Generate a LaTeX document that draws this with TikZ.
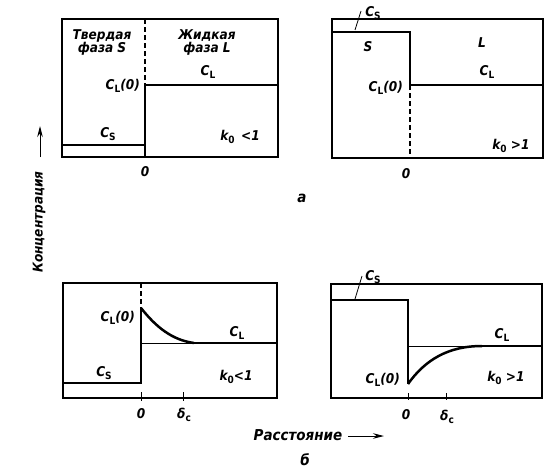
\documentclass[tikz,border=0pt]{standalone}
\usepackage{fontspec}
\setmainfont{DejaVu Sans Condensed}
\usetikzlibrary{arrows.meta}
\newcommand{\mysub}[1]{\raisebox{-0.35ex}{\fontsize{10}{10}\selectfont\upshape #1}}
\tikzset{
  frame/.style={line width=1.5pt},
  thickline/.style={line width=2.5pt},
  thinline/.style={line width=0.9pt},
  medline/.style={line width=1.5pt},
  dashline/.style={line width=1.4pt, dash pattern=on 5pt off 3pt},
  lbl/.style={font=\fontsize{13.5}{14}\selectfont\bfseries\itshape, inner sep=0pt},
  biglbl/.style={font=\fontsize{15}{16}\selectfont\bfseries\itshape, inner sep=0pt},
  lead/.style={line width=0.8pt},
  axarrow/.style={line width=1pt, -{Stealth[length=11pt,width=5.5pt]}}
}
\begin{document}
\begin{tikzpicture}[x=1pt,y=-1pt]
\useasboundingbox (0,0) rectangle (559,471);
% ---------- Panel 1 ----------
\draw[frame] (62,19) rectangle (278,157);
\draw[dashline] (145,19) -- (145,85);
\draw[thickline] (145,85) -- (145,157);
\draw[medline] (145,85) -- (278,85);
\draw[medline] (62,145) -- (145,145);
\node[lbl, align=center] (t1) at (102,42) {Твердая\\[-1pt]фаза S};
\node[lbl, align=center] (t2) at (207,42) {Жидкая\\[-1pt]фаза L};
\node[lbl] (p1cl) at (208,72) {C\mysub{L}};
\node[lbl, anchor=east] (p1cl0) at (140,86) {C\mysub{L}(0)};
\node[lbl] (p1cs) at (108,134) {C\mysub{S}};
\node[lbl] (p1k) at (240,137) {k\mysub{0} \,<1};
\node[lbl] (p1o) at (145,172) {0};
% ---------- Panel 2 ----------
\draw[frame] (332,19) rectangle (543,158);
\draw[thickline] (332,32) -- (410,32) -- (410,85) -- (543,85);
\draw[dashline] (410,85) -- (410,158);
\node[lbl] (p2cs) at (373,13) {C\mysub{S}};
\coordinate (p2a) at (355,30);
\coordinate (p2b) at (361,11);
\draw[lead] (p2a) -- (p2b);
\node[lbl] (p2s) at (368,47) {S};
\node[lbl] (p2l) at (482,43) {L};
\node[lbl] (p2cl) at (487,72) {C\mysub{L}};
\node[lbl, anchor=east] (p2cl0) at (403,88) {C\mysub{L}(0)};
\node[lbl] (p2k) at (511,146) {k\mysub{0} >1};
\node[lbl] (p2o) at (406,174) {0};
% ---------- Label a ----------
\node[biglbl] (la) at (302,198) {а};
% ---------- Axis labels ----------
\node[lbl, rotate=90] (conc) at (39,222) {Концентрация};
\coordinate (ya) at (40,157);
\coordinate (yb) at (40,126);
\draw[axarrow] (ya) -- (yb);
\node[biglbl] (dist) at (298,435) {Расстояние};
\coordinate (xa) at (348,436);
\coordinate (xb) at (384,436);
\draw[axarrow] (xa) -- (xb);
\node[biglbl] (lb) at (305,460) {б};
% ---------- Panel 3 ----------
\draw[frame] (63,283) rectangle (277,398);
\draw[dashline] (141,283) -- (141,308);
\draw[thickline] (141,308) -- (141,383) -- (63,383);
\draw[thickline] (141,308) .. controls (156,327) and (172,340) .. (194,343);
\draw[thinline] (141,343) -- (194,343);
\draw[thickline] (194,343) -- (277,343);
\draw[thinline] (141,392) -- (141,401);
\draw[thinline] (183,392) -- (183,401);
\node[lbl, anchor=east] (p3cl0) at (135,318) {C\mysub{L}(0)};
\node[lbl] (p3cl) at (237,333) {C\mysub{L}};
\node[lbl] (p3cs) at (104,373) {C\mysub{S}};
\node[lbl] (p3k) at (236,377) {k\mysub{0}<1};
\node[lbl] (p3o) at (141,414) {0};
\node[lbl] (p3d) at (184,415) {δ\mysub{c}};
% ---------- Panel 4 ----------
\draw[frame] (331,284) rectangle (542,398);
\draw[thickline] (331,300) -- (408,300) -- (408,384);
\draw[thickline] (408,384) .. controls (425,360) and (448,346) .. (482,346);
\draw[thinline] (408,346) -- (482,346);
\draw[thickline] (482,346) -- (542,346);
\draw[thinline] (408,393) -- (408,400);
\draw[thinline] (446,393) -- (446,400);
\node[lbl] (p4cs) at (373,277) {C\mysub{S}};
\coordinate (p4a) at (355,299);
\coordinate (p4b) at (362,276);
\draw[lead] (p4a) -- (p4b);
\node[lbl] (p4cl) at (502,335) {C\mysub{L}};
\node[lbl, anchor=east] (p4cl0) at (400,380) {C\mysub{L}(0)};
\node[lbl] (p4k) at (506,378) {k\mysub{0} >1};
\node[lbl] (p4o) at (406,415) {0};
\node[lbl] (p4d) at (447,417) {δ\mysub{c}};
\end{tikzpicture}
\end{document}
